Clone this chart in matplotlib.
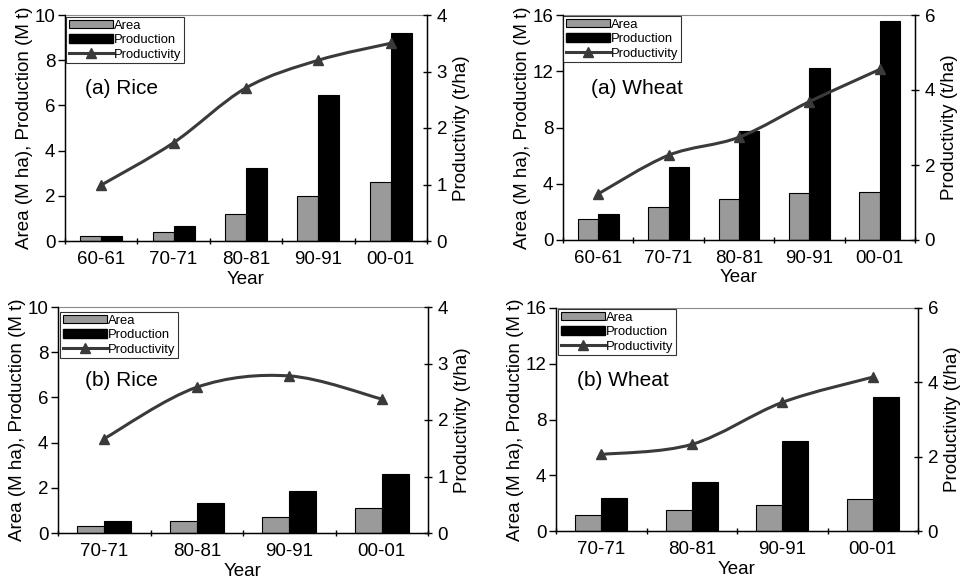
import numpy as np
import matplotlib
matplotlib.use("Agg")
import matplotlib.pyplot as plt
from matplotlib.path import Path
from matplotlib.patches import PathPatch, Patch
from matplotlib.lines import Line2D

plt.rcParams['font.family'] = ['Liberation Sans', 'DejaVu Sans']

# ---- data ----
years_a = ["60-61", "70-71", "80-81", "90-91", "00-01"]
years_b = ["70-71", "80-81", "90-91", "00-01"]

rice_a_area = [0.2, 0.4, 1.2, 2.0, 2.62]
rice_a_prod = [0.2, 0.67, 3.23, 6.47, 9.19]
rice_a_yield = [0.99, 1.74, 2.71, 3.20, 3.50]

wheat_a_area = [1.47, 2.32, 2.89, 3.37, 3.44]
wheat_a_prod = [1.83, 5.17, 7.75, 12.2, 15.6]
wheat_a_yield = [1.23, 2.26, 2.74, 3.69, 4.55]

rice_b_area = [0.29, 0.52, 0.69, 1.1]
rice_b_prod = [0.52, 1.33, 1.86, 2.61]
rice_b_yield = [1.67, 2.58, 2.78, 2.37]

wheat_b_area = [1.13, 1.49, 1.85, 2.33]
wheat_b_prod = [2.40, 3.48, 6.45, 9.64]
wheat_b_yield = [2.06, 2.33, 3.46, 4.14]

panels = [
    dict(cats=years_a, area=rice_a_area, prod=rice_a_prod, yld=rice_a_yield,
         ylim=10, yticks=[0, 2, 4, 6, 8, 10], rlim=4, rticks=[0, 1, 2, 3, 4],
         title="(a) Rice", pos=[65, 15, 427, 241], tpos=(0.055, 0.675),
         leg=(66, 17)),
    dict(cats=years_a, area=wheat_a_area, prod=wheat_a_prod, yld=wheat_a_yield,
         ylim=16, yticks=[0, 4, 8, 12, 16], rlim=6, rticks=[0, 2, 4, 6],
         title="(a) Wheat", pos=[563, 15, 915, 240], tpos=(0.08, 0.675),
         leg=(563, 16)),
    dict(cats=years_b, area=rice_b_area, prod=rice_b_prod, yld=rice_b_yield,
         ylim=10, yticks=[0, 2, 4, 6, 8, 10], rlim=4, rticks=[0, 1, 2, 3, 4],
         title="(b) Rice", pos=[58, 307, 428, 533], tpos=(0.073, 0.675),
         leg=(60, 312)),
    dict(cats=years_b, area=wheat_b_area, prod=wheat_b_prod, yld=wheat_b_yield,
         ylim=16, yticks=[0, 4, 8, 12, 16], rlim=6, rticks=[0, 2, 4, 6],
         title="(b) Wheat", pos=[556, 308, 918, 531], tpos=(0.058, 0.675),
         leg=(558, 309)),
]

W, H = 971, 585
fig = plt.figure(figsize=(W / 100, H / 100), dpi=100)

AREA_C = "#9a9a9a"
LINE_C = "#3a3a3a"
FS = 13.5


def smooth_path(xs, ys):
    pts = np.column_stack([xs, ys]).astype(float)
    n = len(pts)
    verts = [pts[0]]
    codes = [Path.MOVETO]
    for i in range(n - 1):
        p0 = pts[i - 1] if i > 0 else pts[i]
        p1 = pts[i]
        p2 = pts[i + 1]
        p3 = pts[i + 2] if i + 2 < n else pts[i + 1]
        c1 = p1 + (p2 - p0) / 6.0
        c2 = p2 - (p3 - p1) / 6.0
        verts += [c1, c2, p2]
        codes += [Path.CURVE4] * 3
    return Path(verts, codes)


for p in panels:
    x0, y0, x1, y1 = p["pos"]
    ax = fig.add_axes([x0 / W, 1 - y1 / H, (x1 - x0) / W, (y1 - y0) / H])
    n = len(p["cats"])
    x = np.arange(n)
    bw = 0.29
    ax.bar(x - bw / 2, p["area"], bw, color=AREA_C, edgecolor="black", linewidth=0.8, zorder=2)
    ax.bar(x + bw / 2, p["prod"], bw, color="black", edgecolor="black", linewidth=0.8, zorder=2)
    ax.set_xlim(-0.5, n - 0.5)
    ax.set_ylim(0, p["ylim"])
    ax.set_yticks(p["yticks"])
    ax.set_xticks(x)
    ax.set_xticklabels(p["cats"])
    ax.set_xticks(np.arange(n + 1) - 0.5, minor=True)
    ax.tick_params(axis="x", which="major", length=0, labelsize=FS, pad=7)
    ax.tick_params(axis="x", which="minor", length=5, direction="inout", width=1)
    ax.tick_params(axis="y", length=5, direction="out", width=1, labelsize=FS, pad=2)
    ax.spines["top"].set_color("#8a8a8a")
    ax.spines["top"].set_linewidth(0.8)
    ax.spines["left"].set_linewidth(1.0)
    ax.spines["bottom"].set_linewidth(1.0)
    ax.set_xlabel("Year", fontsize=FS, labelpad=2)
    ax.set_ylabel("Area (M ha), Production (M t)", fontsize=FS, labelpad=1)
    ax.text(p["tpos"][0], p["tpos"][1], p["title"], transform=ax.transAxes,
            fontsize=15, va="center", ha="left")

    ax2 = ax.twinx()
    ax2.set_ylim(0, p["rlim"])
    ax2.set_yticks(p["rticks"])
    ax2.tick_params(axis="y", length=6, direction="inout", width=1, labelsize=FS, pad=4)
    ax2.spines["right"].set_linewidth(1.0)
    ax2.spines["top"].set_visible(False)
    ax2.set_ylabel("Productivity (t/ha)", fontsize=FS, labelpad=4)
    path = smooth_path(x, p["yld"])
    ax2.add_patch(PathPatch(path, facecolor="none", edgecolor=LINE_C, linewidth=2.2, zorder=3))
    ax2.plot(x, p["yld"], linestyle="none", marker="^", color=LINE_C, markersize=7.5, zorder=4)

    handles = [Patch(facecolor=AREA_C, edgecolor="black", linewidth=0.8),
               Patch(facecolor="black", edgecolor="black"),
               Line2D([0], [0], color=LINE_C, lw=2.2, marker="^", markersize=6.5)]
    lx, ly = p["leg"]
    leg = ax2.legend(handles, ["Area", "Production", "Productivity"],
                     loc="upper left",
                     bbox_to_anchor=((lx - x0) / (x1 - x0), 1 - (ly - y0) / (y1 - y0)),
                     fontsize=9.4, frameon=True, fancybox=False, edgecolor="black",
                     handlelength=3.4, handleheight=0.6, handletextpad=0.1,
                     labelspacing=0.2, borderpad=0.2, borderaxespad=0.0)
    leg.get_frame().set_linewidth(0.8)

fig.savefig("out.png", dpi=100)
